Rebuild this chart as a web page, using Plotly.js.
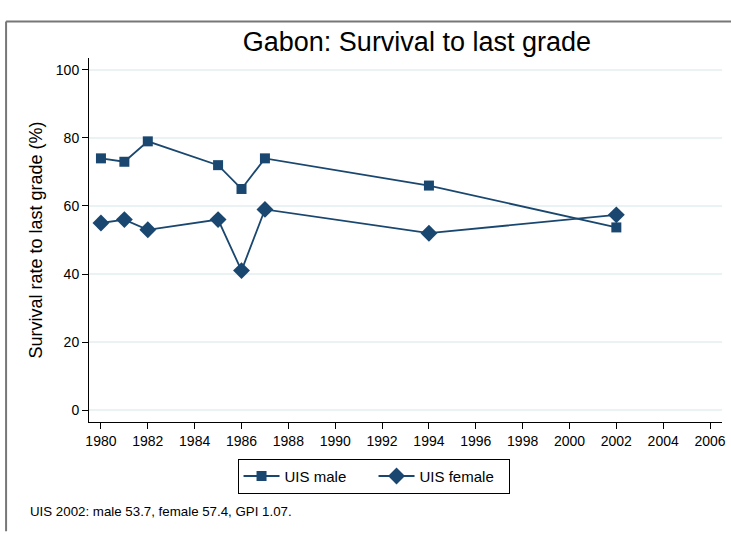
<!DOCTYPE html>
<html>
<head>
<meta charset="utf-8">
<script src="https://cdn.plot.ly/plotly-3.0.1.min.js"></script>
<style>html,body{margin:0;padding:0;background:#fff;}#chart{width:731px;height:537px;}</style>
</head>
<body>
<div id="chart"></div>
<script>
const years = [1980, 1981, 1982, 1985, 1986, 1987, 1994, 2002];
const maleValues = [74, 73, 79, 72, 65, 74, 66, 53.7];
const femaleValues = [55, 56, 53, 56, 41, 59, 52, 57.4];
const xTickValues = [1980,1982,1984,1986,1988,1990,1992,1994,1996,1998,2000,2002,2004,2006];
const yTickValues = [0, 20, 40, 60, 80, 100];
const titleText = "Gabon: Survival to last grade";
const yTitleText = "Survival rate to last grade (%)";
const noteText = "UIS 2002: male 53.7, female 57.4, GPI 1.07.";
const seriesNames = ["UIS male", "UIS female"];

const navy = "#1a476f";
const fontFam = "Liberation Sans, Arial, sans-serif";

const traces = [
  {x: years, y: maleValues, name: seriesNames[0], type: "scatter", mode: "lines+markers",
   line: {color: navy, width: 1.8}, marker: {symbol: "square", size: 10, color: navy}},
  {x: years, y: femaleValues, name: seriesNames[1], type: "scatter", mode: "lines+markers",
   line: {color: navy, width: 1.8}, marker: {symbol: "diamond", size: 13, color: navy}}
];

const layout = {
  width: 731, height: 537,
  margin: {l: 89, r: 9, t: 58, b: 115},
  paper_bgcolor: "#fff", plot_bgcolor: "#fff",
  font: {family: fontFam, color: "#000", size: 14},
  title: {text: titleText, font: {size: 27, family: fontFam, color: "#000"},
          xref: "paper", x: 0.518, xanchor: "center", yref: "container", y: 0.922, yanchor: "middle"},
  xaxis: {range: [1979.49, 2006.51], tickvals: xTickValues, ticktext: xTickValues.map(String),
          ticks: "outside", ticklen: 6, tickcolor: "#000", tickwidth: 1,
          showline: true, linecolor: "#000", linewidth: 1, showgrid: false, zeroline: false,
          tickfont: {size: 14}},
  yaxis: {range: [-3.5, 103.5], tickvals: yTickValues, ticktext: yTickValues.map(String),
          ticks: "outside", ticklen: 6, tickcolor: "#000", tickwidth: 1,
          showline: true, linecolor: "#000", linewidth: 1,
          showgrid: true, gridcolor: "#eaf2f3", gridwidth: 1.2, zeroline: false,
          tickfont: {size: 14},
          title: {text: yTitleText, font: {size: 18}, standoff: 8}},
  showlegend: true,
  legend: {orientation: "h", x: 0.4495, xanchor: "center", y: -0.101, yanchor: "top",
           bordercolor: "#000", borderwidth: 1, bgcolor: "#fff",
           font: {size: 15}, itemwidth: 36, entrywidth: 84, entrywidthmode: "pixels", tracegroupgap: 0},
  annotations: [
    {text: noteText, xref: "paper", yref: "paper", x: -0.096, y: -0.245, xanchor: "left", yanchor: "middle",
     showarrow: false, font: {size: 13.3, family: fontFam, color: "#000"}}
  ],
  shapes: [
    {type: "line", xref: "paper", yref: "paper", x0: -0.131, x1: 1.02, y0: 1.1, y1: 1.1, line: {color: "#777", width: 2}},
    {type: "line", xref: "paper", yref: "paper", x0: -0.131, x1: -0.131, y0: 1.1, y1: -0.3, line: {color: "#777", width: 2}}
  ]
};

Plotly.newPlot("chart", traces, layout, {displayModeBar: false, staticPlot: true});
</script>
</body>
</html>
